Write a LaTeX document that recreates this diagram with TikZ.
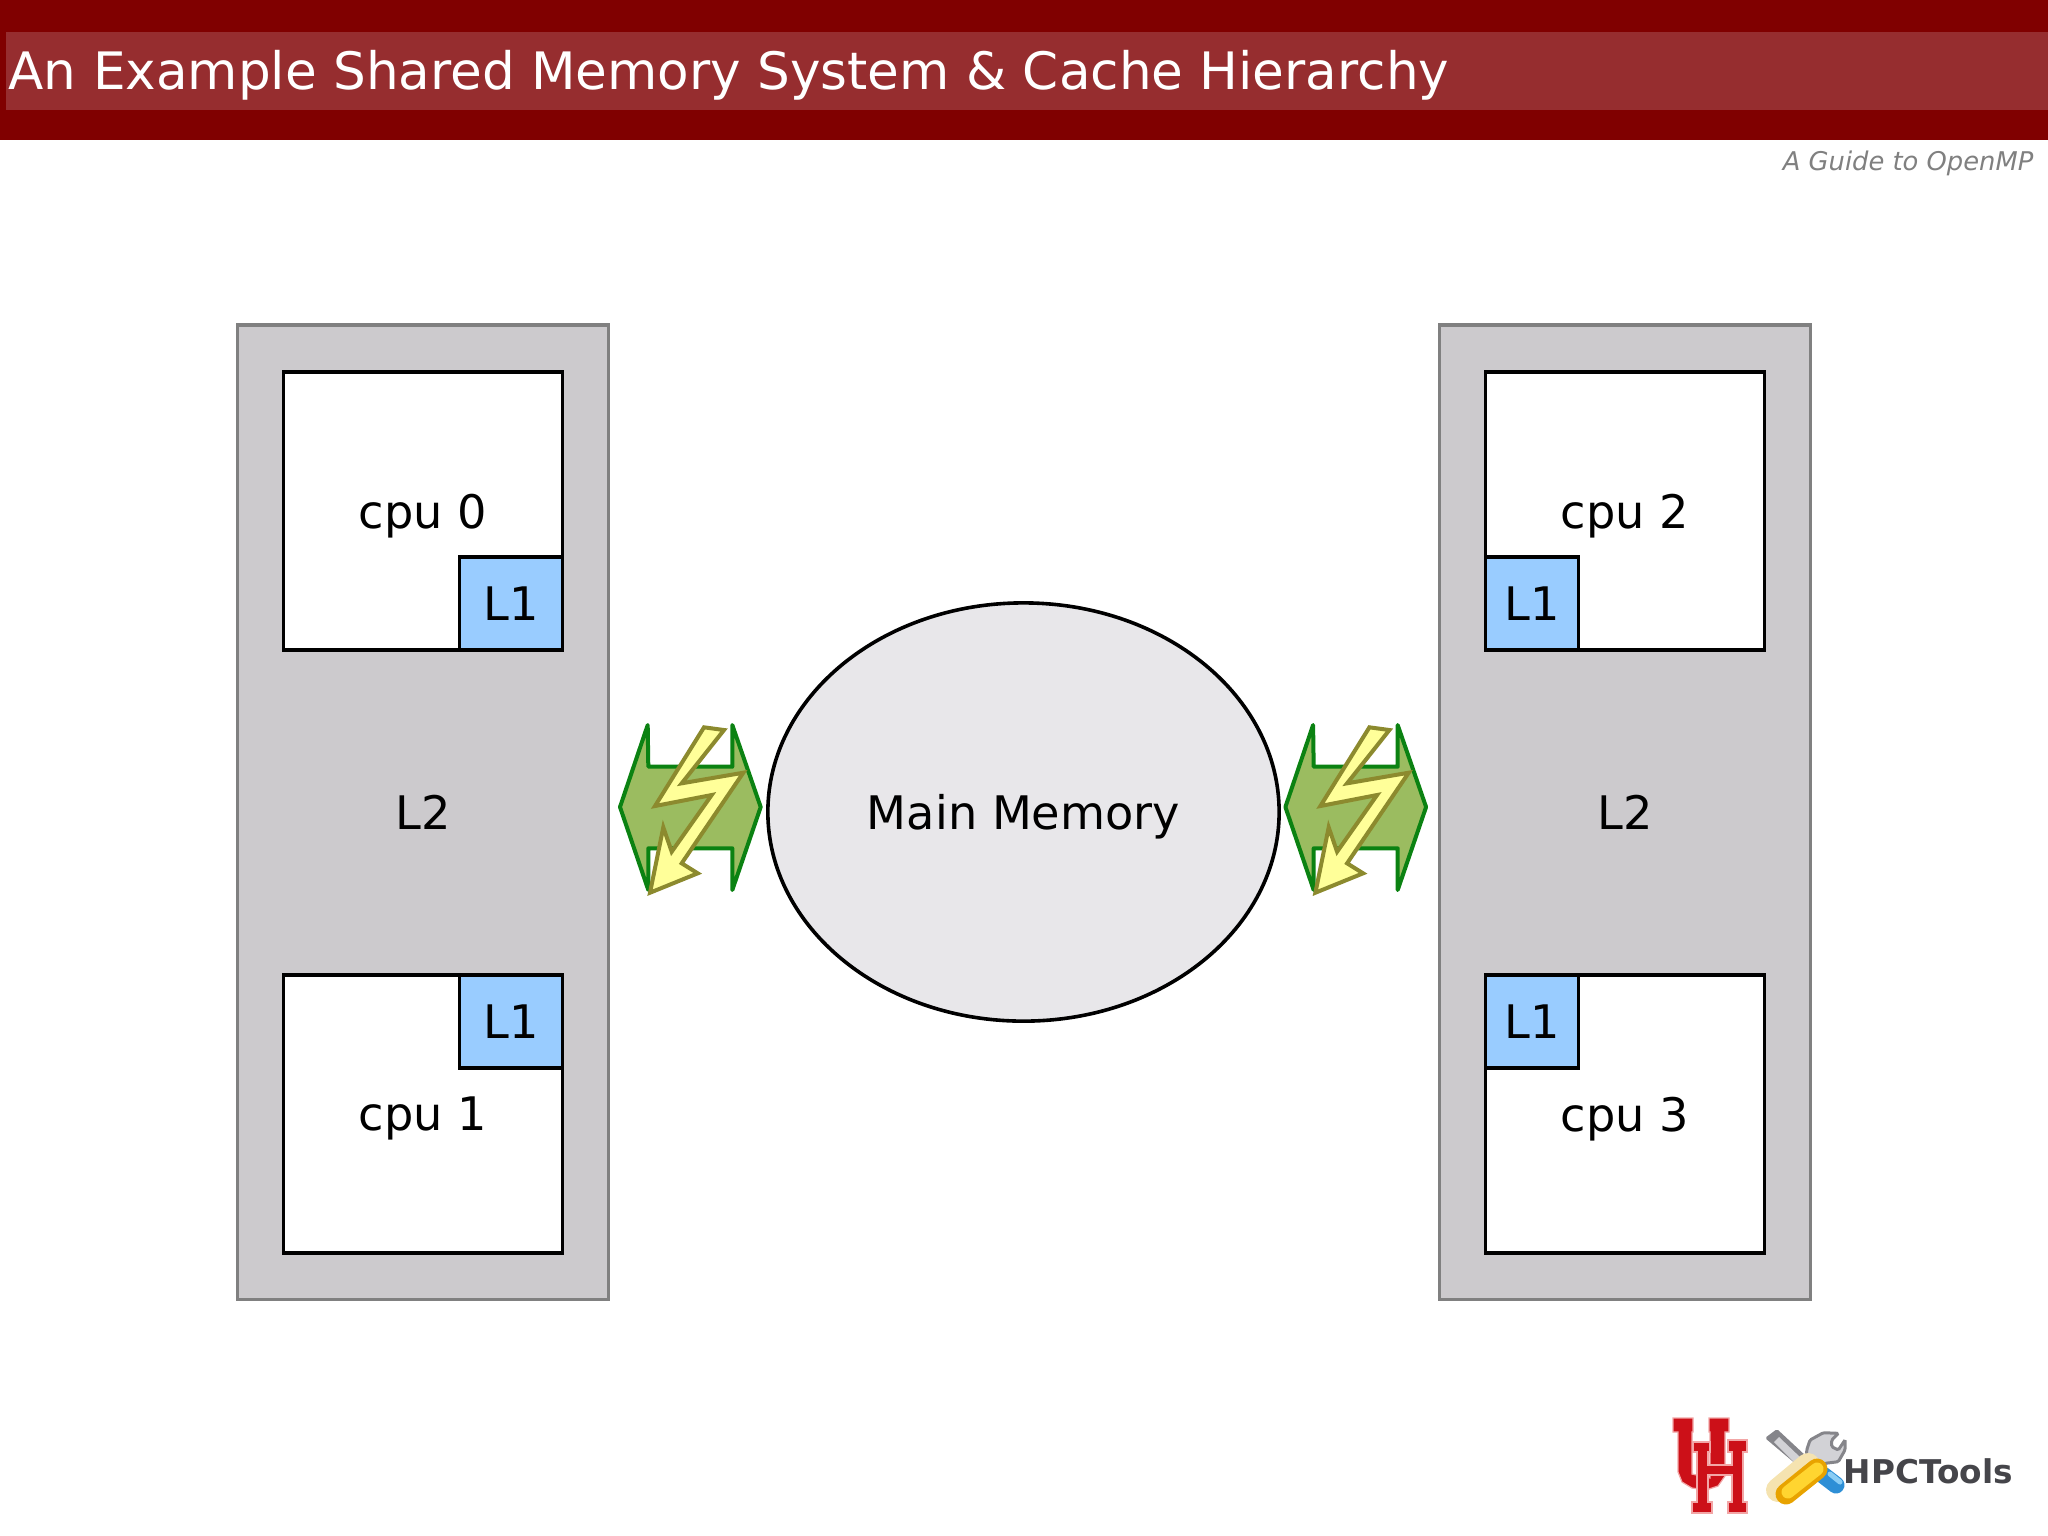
\documentclass[tikz,border=0pt]{standalone}
\usepackage{fontspec}
\setmainfont{DejaVu Sans}
\usepackage{tikz}
\usetikzlibrary{shapes.geometric,positioning}

\definecolor{bandred}{HTML}{800000}
\definecolor{titlered}{HTML}{962D2F}
\definecolor{cachegray}{HTML}{CCCACD}
\definecolor{memgray}{HTML}{E8E7EA}
\definecolor{lonefill}{HTML}{99CCFF}
\definecolor{busfill}{HTML}{9BBC60}
\definecolor{busline}{HTML}{0B8212}
\definecolor{boltfill}{HTML}{FFFF99}
\definecolor{boltline}{HTML}{8C8A2E}
\definecolor{uhred}{HTML}{CC1018}
\definecolor{uhpale}{HTML}{F2A6A6}
\definecolor{toolgray}{HTML}{85858A}
\definecolor{toollight}{HTML}{D2D2D6}
\definecolor{toolink}{HTML}{45454A}
\definecolor{toolblue}{HTML}{2E8FD6}
\definecolor{toolsky}{HTML}{8ACDF5}
\definecolor{toolcream}{HTML}{F5E3B0}
\definecolor{toolorange}{HTML}{E8A300}
\definecolor{toolyellow}{HTML}{FFD530}

\begin{document}
\begin{tikzpicture}[
  x=0.01cm, y=-0.01cm,
  band/.style={
    rectangle, fill=bandred, inner sep=0, outer sep=0,
    minimum width=20.48cm, minimum height=1.395cm
  },
  titlebar/.style={
    rectangle, fill=titlered, inner sep=0, outer sep=0,
    minimum width=20.40cm, minimum height=0.78cm
  },
  l2/.style={
    rectangle, draw=gray, fill=cachegray, line width=0.036cm, outer sep=0,
    font=\fontsize{13.15}{15}\selectfont,
    minimum width=3.71cm, minimum height=9.74cm
  },
  cpu/.style={
    rectangle, draw=black, fill=white, line width=0.036cm, outer sep=0,
    font=\fontsize{13.15}{15}\selectfont, text depth=0pt,
    minimum width=2.79cm, minimum height=2.78cm
  },
  l1/.style={
    rectangle, draw=black, fill=lonefill, line width=0.036cm, outer sep=0,
    font=\fontsize{13.15}{15}\selectfont,
    minimum height=0.93cm
  },
  mem/.style={
    ellipse, draw=black, fill=memgray, line width=0.036cm, outer sep=0,
    font=\fontsize{13.15}{15}\selectfont, text depth=0pt,
    minimum width=5.11cm, minimum height=4.18cm
  },
  bus/.style={draw=busline, fill=busfill, line width=0.04cm, line join=round},
  bolt/.style={draw=boltline, fill=boltfill, line width=0.04cm, line join=miter},
  uh/.style={draw=uhpale, fill=uhred, line width=0.012cm},
  tool/.style={line cap=round, line join=round}
]
\useasboundingbox (0,0) rectangle (2048,1535);

% Title
\node[band] (band) at (1024,69.7) {};
\node[titlebar] (bar) at (1027,71) {};
\node[anchor=base west, inner sep=0, text=white, font=\fontsize{14.67}{17}\selectfont]
     (title) at (8,89) {An Example Shared Memory System \& Cache Hierarchy};
\node[anchor=base east, inner sep=0, text=gray, font=\fontsize{7.33}{9}\selectfont\itshape]
     (guide) at (2034,170) {A Guide to OpenMP};

% -- Left node --
\node[l2] (l2a) at (423,812) {L2};
\node[cpu] (cpu0) at (423,511) {cpu 0};
\node[cpu] (cpu1) at (423,1114) {cpu 1};
\node[l1, minimum width=1.03cm, anchor=south east] (l1cpu0) at (cpu0.south east) {L1};
\node[l1, minimum width=1.03cm, anchor=north east] (l1cpu1) at (cpu1.north east) {L1};

% -- Right node --
\node[l2] (l2b) at (1625,812) {L2};
\node[cpu] (cpu2) at (1625,511) {cpu 2};
\node[cpu] (cpu3) at (1625,1114) {cpu 3};
\node[l1, minimum width=0.93cm, anchor=south west] (l1cpu2) at (cpu2.south west) {L1};
\node[l1, minimum width=0.93cm, anchor=north west] (l1cpu3) at (cpu3.north west) {L1};

% -- Memory --
\node[mem] (mem) at (1023.5,812) {Main Memory};

% -- Left bus --
\draw[bus] (620,807) -- (647.7,725) -- (648.3,766.7) -- (732.3,766.7) -- (732.3,725)
  -- (760.7,807) -- (732.3,890) -- (732.3,848.3) -- (648.3,848.3) -- (648.3,890) -- cycle;
\draw[bolt] (704,727.3) -- (724,730) -- (681.7,783.3) -- (743.3,772.7) -- (681.7,863.3)
  -- (697.7,873.3) -- (650,892.7) -- (663.3,827.3) -- (671.7,851.7) -- (711.7,795)
  -- (655,806) -- cycle;

% -- Right bus --
\draw[bus, xshift=6.65cm] (620,807) -- (647.7,725) -- (648.3,766.7) -- (732.3,766.7) -- (732.3,725)
  -- (760.7,807) -- (732.3,890) -- (732.3,848.3) -- (648.3,848.3) -- (648.3,890) -- cycle;
\draw[bolt, xshift=6.65cm] (704,727.3) -- (724,730) -- (681.7,783.3) -- (743.3,772.7) -- (681.7,863.3)
  -- (697.7,873.3) -- (650,892.7) -- (663.3,827.3) -- (671.7,851.7) -- (711.7,795)
  -- (655,806) -- cycle;

% -- UH mark --
\draw[uh]
  (1673,1418) -- (1693,1418) -- (1693,1432) -- (1692,1432) -- (1692,1474) -- (1710,1478)
  -- (1710,1432) -- (1709,1432) -- (1709,1418) -- (1729,1418) -- (1729,1432) -- (1725,1432)
  -- (1725,1476) -- (1718,1486) -- (1706,1490) -- (1692,1488) -- (1682,1482) -- (1678,1472)
  -- (1678,1432) -- (1673,1432) -- cycle;
\draw[uh]
  (1693,1442) -- (1710,1442) -- (1710,1452) -- (1708,1452) -- (1708,1465) -- (1732,1465)
  -- (1732,1452) -- (1728,1452) -- (1728,1440) -- (1747,1440) -- (1747,1452) -- (1743,1452)
  -- (1743,1502) -- (1747,1502) -- (1747,1513) -- (1728,1513) -- (1728,1502) -- (1732,1502)
  -- (1732,1475) -- (1708,1475) -- (1708,1502) -- (1712,1502) -- (1712,1513) -- (1692,1513)
  -- (1692,1502) -- (1697,1502) -- (1697,1452) -- (1693,1452) -- cycle;

% -- Tools --
\fill[toolgray, rounded corners=0.5pt] (1765,1438) -- (1777,1429) -- (1806,1456) -- (1797,1465) -- cycle;
\fill[toollight] (1779,1437) -- (1801,1458) -- (1795,1463) -- (1774,1442) -- cycle;
\filldraw[draw=toolgray, fill=toollight, line width=0.03cm, rounded corners=0.4pt]
  (1806.7,1450) -- (1810,1440) -- (1823.3,1432.7) -- (1838.3,1433.3) -- (1831.7,1440)
  -- (1831.7,1446.7) -- (1838.3,1450) -- (1845,1440) -- (1845,1450) -- (1838.3,1461.7)
  -- (1825,1463.3) -- (1818.3,1471.7) -- (1806.7,1460) -- cycle;
\draw[tool, line width=0.17cm, color=toolblue] (1823,1475) -- (1836,1485);
\draw[tool, line width=0.05cm, color=toolsky] (1830,1474) -- (1840,1482);
\draw[tool, line width=0.24cm, color=toolcream] (1808,1465) -- (1778,1490);
\draw[tool, line width=0.21cm, color=toolorange] (1817,1469) -- (1786,1494);
\draw[tool, line width=0.13cm, color=toolyellow] (1817,1469) -- (1788,1492);

\node[anchor=base west, inner sep=0, text=toolink, font=\fontsize{9.3}{11}\selectfont\bfseries]
     (hpctools) at (1843,1483) {HPCTools};

\end{tikzpicture}
\end{document}
